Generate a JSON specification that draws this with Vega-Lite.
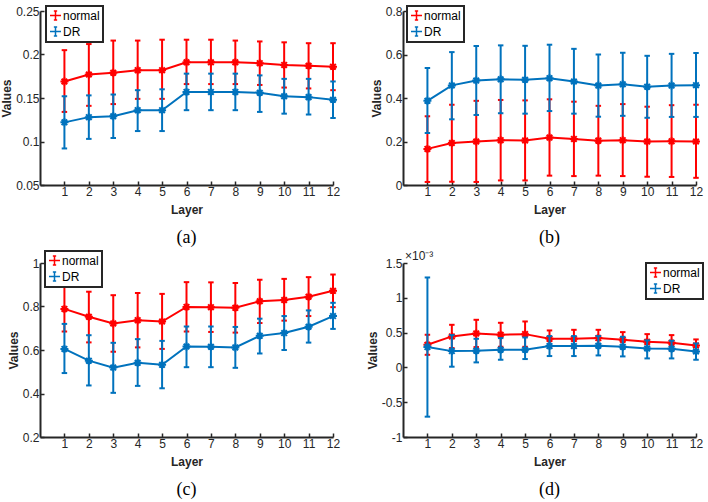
{
  "$schema": "https://vega.github.io/schema/vega-lite/v6.json",
  "background": "white",
  "padding": {"left": 0, "top": 5, "right": 2, "bottom": 2},
  "columns": 2,
  "spacing": {"row": 3, "column": 25},
  "resolve": {"scale": {"color": "independent"}, "legend": {"color": "independent"}},
  "datasets": {
    "a": [
      {"layer":1,"series":"normal","mean":0.169,"lo":0.134,"hi":0.205},
      {"layer":2,"series":"normal","mean":0.177,"lo":0.141,"hi":0.212},
      {"layer":3,"series":"normal","mean":0.179,"lo":0.143,"hi":0.216},
      {"layer":4,"series":"normal","mean":0.182,"lo":0.149,"hi":0.216},
      {"layer":5,"series":"normal","mean":0.182,"lo":0.149,"hi":0.217},
      {"layer":6,"series":"normal","mean":0.191,"lo":0.166,"hi":0.217},
      {"layer":7,"series":"normal","mean":0.191,"lo":0.166,"hi":0.217},
      {"layer":8,"series":"normal","mean":0.191,"lo":0.166,"hi":0.216},
      {"layer":9,"series":"normal","mean":0.190,"lo":0.165,"hi":0.215},
      {"layer":10,"series":"normal","mean":0.188,"lo":0.162,"hi":0.214},
      {"layer":11,"series":"normal","mean":0.187,"lo":0.161,"hi":0.213},
      {"layer":12,"series":"normal","mean":0.186,"lo":0.159,"hi":0.213},
      {"layer":1,"series":"DR","mean":0.122,"lo":0.092,"hi":0.152},
      {"layer":2,"series":"DR","mean":0.128,"lo":0.103,"hi":0.153},
      {"layer":3,"series":"DR","mean":0.129,"lo":0.104,"hi":0.154},
      {"layer":4,"series":"DR","mean":0.136,"lo":0.112,"hi":0.159},
      {"layer":5,"series":"DR","mean":0.136,"lo":0.112,"hi":0.160},
      {"layer":6,"series":"DR","mean":0.157,"lo":0.136,"hi":0.178},
      {"layer":7,"series":"DR","mean":0.157,"lo":0.136,"hi":0.178},
      {"layer":8,"series":"DR","mean":0.157,"lo":0.136,"hi":0.178},
      {"layer":9,"series":"DR","mean":0.156,"lo":0.134,"hi":0.176},
      {"layer":10,"series":"DR","mean":0.152,"lo":0.132,"hi":0.172},
      {"layer":11,"series":"DR","mean":0.151,"lo":0.131,"hi":0.172},
      {"layer":12,"series":"DR","mean":0.148,"lo":0.127,"hi":0.169}
    ],
    "b": [
      {"layer":1,"series":"normal","mean":0.166,"lo":0.014,"hi":0.316},
      {"layer":2,"series":"normal","mean":0.193,"lo":0.015,"hi":0.369},
      {"layer":3,"series":"normal","mean":0.200,"lo":0.014,"hi":0.387},
      {"layer":4,"series":"normal","mean":0.206,"lo":0.021,"hi":0.391},
      {"layer":5,"series":"normal","mean":0.205,"lo":0.021,"hi":0.389},
      {"layer":6,"series":"normal","mean":0.218,"lo":0.043,"hi":0.394},
      {"layer":7,"series":"normal","mean":0.212,"lo":0.041,"hi":0.383},
      {"layer":8,"series":"normal","mean":0.204,"lo":0.043,"hi":0.364},
      {"layer":9,"series":"normal","mean":0.206,"lo":0.041,"hi":0.372},
      {"layer":10,"series":"normal","mean":0.200,"lo":0.038,"hi":0.360},
      {"layer":11,"series":"normal","mean":0.201,"lo":0.037,"hi":0.367},
      {"layer":12,"series":"normal","mean":0.200,"lo":0.033,"hi":0.369},
      {"layer":1,"series":"DR","mean":0.387,"lo":0.239,"hi":0.538},
      {"layer":2,"series":"DR","mean":0.458,"lo":0.302,"hi":0.611},
      {"layer":3,"series":"DR","mean":0.480,"lo":0.322,"hi":0.639},
      {"layer":4,"series":"DR","mean":0.486,"lo":0.330,"hi":0.642},
      {"layer":5,"series":"DR","mean":0.484,"lo":0.328,"hi":0.640},
      {"layer":6,"series":"DR","mean":0.491,"lo":0.340,"hi":0.645},
      {"layer":7,"series":"DR","mean":0.476,"lo":0.328,"hi":0.626},
      {"layer":8,"series":"DR","mean":0.457,"lo":0.314,"hi":0.600},
      {"layer":9,"series":"DR","mean":0.463,"lo":0.318,"hi":0.608},
      {"layer":10,"series":"DR","mean":0.452,"lo":0.309,"hi":0.594},
      {"layer":11,"series":"DR","mean":0.457,"lo":0.313,"hi":0.603},
      {"layer":12,"series":"DR","mean":0.459,"lo":0.313,"hi":0.607}
    ],
    "c": [
      {"layer":1,"series":"normal","mean":0.789,"lo":0.685,"hi":0.897},
      {"layer":2,"series":"normal","mean":0.753,"lo":0.635,"hi":0.868},
      {"layer":3,"series":"normal","mean":0.722,"lo":0.592,"hi":0.852},
      {"layer":4,"series":"normal","mean":0.737,"lo":0.612,"hi":0.862},
      {"layer":5,"series":"normal","mean":0.731,"lo":0.605,"hi":0.858},
      {"layer":6,"series":"normal","mean":0.798,"lo":0.685,"hi":0.912},
      {"layer":7,"series":"normal","mean":0.797,"lo":0.683,"hi":0.911},
      {"layer":8,"series":"normal","mean":0.794,"lo":0.680,"hi":0.908},
      {"layer":9,"series":"normal","mean":0.824,"lo":0.724,"hi":0.923},
      {"layer":10,"series":"normal","mean":0.830,"lo":0.735,"hi":0.927},
      {"layer":11,"series":"normal","mean":0.845,"lo":0.756,"hi":0.935},
      {"layer":12,"series":"normal","mean":0.872,"lo":0.797,"hi":0.947},
      {"layer":1,"series":"DR","mean":0.605,"lo":0.494,"hi":0.720},
      {"layer":2,"series":"DR","mean":0.551,"lo":0.437,"hi":0.668},
      {"layer":3,"series":"DR","mean":0.519,"lo":0.403,"hi":0.633},
      {"layer":4,"series":"DR","mean":0.541,"lo":0.435,"hi":0.650},
      {"layer":5,"series":"DR","mean":0.532,"lo":0.424,"hi":0.642},
      {"layer":6,"series":"DR","mean":0.616,"lo":0.521,"hi":0.708},
      {"layer":7,"series":"DR","mean":0.615,"lo":0.521,"hi":0.708},
      {"layer":8,"series":"DR","mean":0.612,"lo":0.518,"hi":0.706},
      {"layer":9,"series":"DR","mean":0.665,"lo":0.584,"hi":0.744},
      {"layer":10,"series":"DR","mean":0.678,"lo":0.600,"hi":0.756},
      {"layer":11,"series":"DR","mean":0.707,"lo":0.634,"hi":0.782},
      {"layer":12,"series":"DR","mean":0.756,"lo":0.697,"hi":0.817}
    ],
    "d": [
      {"layer":1,"series":"normal","mean":0.000325,"lo":0.000181,"hi":0.000469},
      {"layer":2,"series":"normal","mean":0.000445,"lo":0.000278,"hi":0.000612},
      {"layer":3,"series":"normal","mean":0.000488,"lo":0.000292,"hi":0.000684},
      {"layer":4,"series":"normal","mean":0.000469,"lo":0.000297,"hi":0.000641},
      {"layer":5,"series":"normal","mean":0.000478,"lo":0.000296,"hi":0.000660},
      {"layer":6,"series":"normal","mean":0.000411,"lo":0.000291,"hi":0.000531},
      {"layer":7,"series":"normal","mean":0.000411,"lo":0.000282,"hi":0.000540},
      {"layer":8,"series":"normal","mean":0.000421,"lo":0.000302,"hi":0.000540},
      {"layer":9,"series":"normal","mean":0.000397,"lo":0.000287,"hi":0.000507},
      {"layer":10,"series":"normal","mean":0.000368,"lo":0.000258,"hi":0.000478},
      {"layer":11,"series":"normal","mean":0.000354,"lo":0.000244,"hi":0.000464},
      {"layer":12,"series":"normal","mean":0.000316,"lo":0.000230,"hi":0.000402},
      {"layer":1,"series":"DR","mean":0.000292,"lo":-0.000708,"hi":0.001292},
      {"layer":2,"series":"DR","mean":0.000234,"lo":0.000010,"hi":0.000464},
      {"layer":3,"series":"DR","mean":0.000239,"lo":0.000072,"hi":0.000411},
      {"layer":4,"series":"DR","mean":0.000254,"lo":0.000110,"hi":0.000421},
      {"layer":5,"series":"DR","mean":0.000254,"lo":0.000120,"hi":0.000430},
      {"layer":6,"series":"DR","mean":0.000306,"lo":0.000163,"hi":0.000450},
      {"layer":7,"series":"DR","mean":0.000306,"lo":0.000163,"hi":0.000450},
      {"layer":8,"series":"DR","mean":0.000311,"lo":0.000172,"hi":0.000450},
      {"layer":9,"series":"DR","mean":0.000297,"lo":0.000158,"hi":0.000440},
      {"layer":10,"series":"DR","mean":0.000273,"lo":0.000129,"hi":0.000388},
      {"layer":11,"series":"DR","mean":0.000268,"lo":0.000129,"hi":0.000383},
      {"layer":12,"series":"DR","mean":0.000230,"lo":0.000110,"hi":0.000344}
    ]
  },
  "concat": [
    {
      "title": {"text": "(a)"},
      "width": 293, "height": 174,
      "data": {"name": "a"},
      "encoding": {
        "x": {"field": "layer", "type": "quantitative", "scale": {"domain": [0, 12], "nice": false}, "axis": {"values": [1,2,3,4,5,6,7,8,9,10,11,12], "title": "Layer"}},
        "color": {"field": "series", "type": "nominal", "scale": {"domain": ["normal", "DR"], "range": ["#FF0000", "#0072BD"]}, "legend": {"title": null, "orient": "none", "legendX": 6, "legendY": -5, "encode": {"legend": {"update": {"strokeWidth": {"value": 2}}}}}}
      },
      "layer": [
        {"transform": [{"filter": "datum.series == 'normal'"}], "layer": [
          {"mark": {"type": "rule", "strokeWidth": 2}, "encoding": {"y": {"field": "lo", "type": "quantitative", "scale": {"domain": [0.05, 0.25], "nice": false, "zero": false}, "axis": {"values": [0.05,0.1,0.15,0.2,0.25], "title": "Values"}}, "y2": {"field": "hi"}}},
          {"transform": [{"fold": ["lo", "hi"], "as": ["k", "v"]}], "mark": {"type": "point", "shape": "M-1,0H1", "filled": false, "size": 30, "strokeWidth": 2, "opacity": 1}, "encoding": {"y": {"field": "v", "type": "quantitative", "scale": {"domain": [0.05, 0.25], "nice": false, "zero": false}, "axis": {"values": [0.05,0.1,0.15,0.2,0.25], "title": "Values"}}}},
          {"mark": {"type": "line", "strokeWidth": 2}, "encoding": {"y": {"field": "mean", "type": "quantitative", "scale": {"domain": [0.05, 0.25], "nice": false, "zero": false}, "axis": {"values": [0.05,0.1,0.15,0.2,0.25], "title": "Values"}}}},
          {"mark": {"type": "point", "shape": "M0,-1V1M-1,0H1M-0.7,-0.7L0.7,0.7M-0.7,0.7L0.7,-0.7", "filled": false, "size": 64, "strokeWidth": 2, "opacity": 1}, "encoding": {"y": {"field": "mean", "type": "quantitative", "scale": {"domain": [0.05, 0.25], "nice": false, "zero": false}, "axis": {"values": [0.05,0.1,0.15,0.2,0.25], "title": "Values"}}}}
        ]},
        {"transform": [{"filter": "datum.series == 'DR'"}], "layer": [
          {"mark": {"type": "rule", "strokeWidth": 2}, "encoding": {"y": {"field": "lo", "type": "quantitative", "scale": {"domain": [0.05, 0.25], "nice": false, "zero": false}, "axis": {"values": [0.05,0.1,0.15,0.2,0.25], "title": "Values"}}, "y2": {"field": "hi"}}},
          {"transform": [{"fold": ["lo", "hi"], "as": ["k", "v"]}], "mark": {"type": "point", "shape": "M-1,0H1", "filled": false, "size": 30, "strokeWidth": 2, "opacity": 1}, "encoding": {"y": {"field": "v", "type": "quantitative", "scale": {"domain": [0.05, 0.25], "nice": false, "zero": false}, "axis": {"values": [0.05,0.1,0.15,0.2,0.25], "title": "Values"}}}},
          {"mark": {"type": "line", "strokeWidth": 2}, "encoding": {"y": {"field": "mean", "type": "quantitative", "scale": {"domain": [0.05, 0.25], "nice": false, "zero": false}, "axis": {"values": [0.05,0.1,0.15,0.2,0.25], "title": "Values"}}}},
          {"mark": {"type": "point", "shape": "M0,-1V1M-1,0H1M-0.7,-0.7L0.7,0.7M-0.7,0.7L0.7,-0.7", "filled": false, "size": 64, "strokeWidth": 2, "opacity": 1}, "encoding": {"y": {"field": "mean", "type": "quantitative", "scale": {"domain": [0.05, 0.25], "nice": false, "zero": false}, "axis": {"values": [0.05,0.1,0.15,0.2,0.25], "title": "Values"}}}}
        ]}
      ]
    },
    {
      "title": {"text": "(b)"},
      "width": 293, "height": 174,
      "data": {"name": "b"},
      "encoding": {
        "x": {"field": "layer", "type": "quantitative", "scale": {"domain": [0, 12], "nice": false}, "axis": {"values": [1,2,3,4,5,6,7,8,9,10,11,12], "title": "Layer"}},
        "color": {"field": "series", "type": "nominal", "scale": {"domain": ["normal", "DR"], "range": ["#FF0000", "#0072BD"]}, "legend": {"title": null, "orient": "none", "legendX": 4, "legendY": -5, "encode": {"legend": {"update": {"strokeWidth": {"value": 2}}}}}}
      },
      "layer": [
        {"transform": [{"filter": "datum.series == 'normal'"}], "layer": [
          {"mark": {"type": "rule", "strokeWidth": 2}, "encoding": {"y": {"field": "lo", "type": "quantitative", "scale": {"domain": [0, 0.8], "nice": false, "zero": false}, "axis": {"values": [0,0.2,0.4,0.6,0.8], "title": "Values"}}, "y2": {"field": "hi"}}},
          {"transform": [{"fold": ["lo", "hi"], "as": ["k", "v"]}], "mark": {"type": "point", "shape": "M-1,0H1", "filled": false, "size": 30, "strokeWidth": 2, "opacity": 1}, "encoding": {"y": {"field": "v", "type": "quantitative", "scale": {"domain": [0, 0.8], "nice": false, "zero": false}, "axis": {"values": [0,0.2,0.4,0.6,0.8], "title": "Values"}}}},
          {"mark": {"type": "line", "strokeWidth": 2}, "encoding": {"y": {"field": "mean", "type": "quantitative", "scale": {"domain": [0, 0.8], "nice": false, "zero": false}, "axis": {"values": [0,0.2,0.4,0.6,0.8], "title": "Values"}}}},
          {"mark": {"type": "point", "shape": "M0,-1V1M-1,0H1M-0.7,-0.7L0.7,0.7M-0.7,0.7L0.7,-0.7", "filled": false, "size": 64, "strokeWidth": 2, "opacity": 1}, "encoding": {"y": {"field": "mean", "type": "quantitative", "scale": {"domain": [0, 0.8], "nice": false, "zero": false}, "axis": {"values": [0,0.2,0.4,0.6,0.8], "title": "Values"}}}}
        ]},
        {"transform": [{"filter": "datum.series == 'DR'"}], "layer": [
          {"mark": {"type": "rule", "strokeWidth": 2}, "encoding": {"y": {"field": "lo", "type": "quantitative", "scale": {"domain": [0, 0.8], "nice": false, "zero": false}, "axis": {"values": [0,0.2,0.4,0.6,0.8], "title": "Values"}}, "y2": {"field": "hi"}}},
          {"transform": [{"fold": ["lo", "hi"], "as": ["k", "v"]}], "mark": {"type": "point", "shape": "M-1,0H1", "filled": false, "size": 30, "strokeWidth": 2, "opacity": 1}, "encoding": {"y": {"field": "v", "type": "quantitative", "scale": {"domain": [0, 0.8], "nice": false, "zero": false}, "axis": {"values": [0,0.2,0.4,0.6,0.8], "title": "Values"}}}},
          {"mark": {"type": "line", "strokeWidth": 2}, "encoding": {"y": {"field": "mean", "type": "quantitative", "scale": {"domain": [0, 0.8], "nice": false, "zero": false}, "axis": {"values": [0,0.2,0.4,0.6,0.8], "title": "Values"}}}},
          {"mark": {"type": "point", "shape": "M0,-1V1M-1,0H1M-0.7,-0.7L0.7,0.7M-0.7,0.7L0.7,-0.7", "filled": false, "size": 64, "strokeWidth": 2, "opacity": 1}, "encoding": {"y": {"field": "mean", "type": "quantitative", "scale": {"domain": [0, 0.8], "nice": false, "zero": false}, "axis": {"values": [0,0.2,0.4,0.6,0.8], "title": "Values"}}}}
        ]}
      ]
    },
    {
      "title": {"text": "(c)"},
      "width": 293, "height": 174,
      "data": {"name": "c"},
      "encoding": {
        "x": {"field": "layer", "type": "quantitative", "scale": {"domain": [0, 12], "nice": false}, "axis": {"values": [1,2,3,4,5,6,7,8,9,10,11,12], "title": "Layer"}},
        "color": {"field": "series", "type": "nominal", "scale": {"domain": ["normal", "DR"], "range": ["#FF0000", "#0072BD"]}, "legend": {"title": null, "orient": "none", "legendX": 5, "legendY": -12, "encode": {"legend": {"update": {"strokeWidth": {"value": 2}}}}}}
      },
      "layer": [
        {"transform": [{"filter": "datum.series == 'normal'"}], "layer": [
          {"mark": {"type": "rule", "strokeWidth": 2}, "encoding": {"y": {"field": "lo", "type": "quantitative", "scale": {"domain": [0.2, 1], "nice": false, "zero": false}, "axis": {"values": [0.2,0.4,0.6,0.8,1], "title": "Values"}}, "y2": {"field": "hi"}}},
          {"transform": [{"fold": ["lo", "hi"], "as": ["k", "v"]}], "mark": {"type": "point", "shape": "M-1,0H1", "filled": false, "size": 30, "strokeWidth": 2, "opacity": 1}, "encoding": {"y": {"field": "v", "type": "quantitative", "scale": {"domain": [0.2, 1], "nice": false, "zero": false}, "axis": {"values": [0.2,0.4,0.6,0.8,1], "title": "Values"}}}},
          {"mark": {"type": "line", "strokeWidth": 2}, "encoding": {"y": {"field": "mean", "type": "quantitative", "scale": {"domain": [0.2, 1], "nice": false, "zero": false}, "axis": {"values": [0.2,0.4,0.6,0.8,1], "title": "Values"}}}},
          {"mark": {"type": "point", "shape": "M0,-1V1M-1,0H1M-0.7,-0.7L0.7,0.7M-0.7,0.7L0.7,-0.7", "filled": false, "size": 64, "strokeWidth": 2, "opacity": 1}, "encoding": {"y": {"field": "mean", "type": "quantitative", "scale": {"domain": [0.2, 1], "nice": false, "zero": false}, "axis": {"values": [0.2,0.4,0.6,0.8,1], "title": "Values"}}}}
        ]},
        {"transform": [{"filter": "datum.series == 'DR'"}], "layer": [
          {"mark": {"type": "rule", "strokeWidth": 2}, "encoding": {"y": {"field": "lo", "type": "quantitative", "scale": {"domain": [0.2, 1], "nice": false, "zero": false}, "axis": {"values": [0.2,0.4,0.6,0.8,1], "title": "Values"}}, "y2": {"field": "hi"}}},
          {"transform": [{"fold": ["lo", "hi"], "as": ["k", "v"]}], "mark": {"type": "point", "shape": "M-1,0H1", "filled": false, "size": 30, "strokeWidth": 2, "opacity": 1}, "encoding": {"y": {"field": "v", "type": "quantitative", "scale": {"domain": [0.2, 1], "nice": false, "zero": false}, "axis": {"values": [0.2,0.4,0.6,0.8,1], "title": "Values"}}}},
          {"mark": {"type": "line", "strokeWidth": 2}, "encoding": {"y": {"field": "mean", "type": "quantitative", "scale": {"domain": [0.2, 1], "nice": false, "zero": false}, "axis": {"values": [0.2,0.4,0.6,0.8,1], "title": "Values"}}}},
          {"mark": {"type": "point", "shape": "M0,-1V1M-1,0H1M-0.7,-0.7L0.7,0.7M-0.7,0.7L0.7,-0.7", "filled": false, "size": 64, "strokeWidth": 2, "opacity": 1}, "encoding": {"y": {"field": "mean", "type": "quantitative", "scale": {"domain": [0.2, 1], "nice": false, "zero": false}, "axis": {"values": [0.2,0.4,0.6,0.8,1], "title": "Values"}}}}
        ]}
      ]
    },
    {
      "title": {"text": "(d)"},
      "width": 293, "height": 174,
      "data": {"name": "d"},
      "encoding": {
        "x": {"field": "layer", "type": "quantitative", "scale": {"domain": [0, 12], "nice": false}, "axis": {"values": [1,2,3,4,5,6,7,8,9,10,11,12], "title": "Layer"}},
        "color": {"field": "series", "type": "nominal", "scale": {"domain": ["normal", "DR"], "range": ["#FF0000", "#0072BD"]}, "legend": {"title": null, "orient": "none", "legendX": 243, "legendY": 0, "encode": {"legend": {"update": {"strokeWidth": {"value": 2}}}}}}
      },
      "layer": [
        {"transform": [{"filter": "datum.series == 'normal'"}], "layer": [
          {"mark": {"type": "rule", "strokeWidth": 2}, "encoding": {"y": {"field": "lo", "type": "quantitative", "scale": {"domain": [-0.001, 0.0015], "nice": false, "zero": false}, "axis": {"values": [-0.001,-0.0005,0,0.0005,0.001,0.0015], "title": "Values", "labelExpr": "'' + round(datum.value*10000)/10"}}, "y2": {"field": "hi"}}},
          {"transform": [{"fold": ["lo", "hi"], "as": ["k", "v"]}], "mark": {"type": "point", "shape": "M-1,0H1", "filled": false, "size": 30, "strokeWidth": 2, "opacity": 1}, "encoding": {"y": {"field": "v", "type": "quantitative", "scale": {"domain": [-0.001, 0.0015], "nice": false, "zero": false}, "axis": {"values": [-0.001,-0.0005,0,0.0005,0.001,0.0015], "title": "Values", "labelExpr": "'' + round(datum.value*10000)/10"}}}},
          {"mark": {"type": "line", "strokeWidth": 2}, "encoding": {"y": {"field": "mean", "type": "quantitative", "scale": {"domain": [-0.001, 0.0015], "nice": false, "zero": false}, "axis": {"values": [-0.001,-0.0005,0,0.0005,0.001,0.0015], "title": "Values", "labelExpr": "'' + round(datum.value*10000)/10"}}}},
          {"mark": {"type": "point", "shape": "M0,-1V1M-1,0H1M-0.7,-0.7L0.7,0.7M-0.7,0.7L0.7,-0.7", "filled": false, "size": 64, "strokeWidth": 2, "opacity": 1}, "encoding": {"y": {"field": "mean", "type": "quantitative", "scale": {"domain": [-0.001, 0.0015], "nice": false, "zero": false}, "axis": {"values": [-0.001,-0.0005,0,0.0005,0.001,0.0015], "title": "Values", "labelExpr": "'' + round(datum.value*10000)/10"}}}}
        ]},
        {"transform": [{"filter": "datum.series == 'DR'"}], "layer": [
          {"mark": {"type": "rule", "strokeWidth": 2}, "encoding": {"y": {"field": "lo", "type": "quantitative", "scale": {"domain": [-0.001, 0.0015], "nice": false, "zero": false}, "axis": {"values": [-0.001,-0.0005,0,0.0005,0.001,0.0015], "title": "Values", "labelExpr": "'' + round(datum.value*10000)/10"}}, "y2": {"field": "hi"}}},
          {"transform": [{"fold": ["lo", "hi"], "as": ["k", "v"]}], "mark": {"type": "point", "shape": "M-1,0H1", "filled": false, "size": 30, "strokeWidth": 2, "opacity": 1}, "encoding": {"y": {"field": "v", "type": "quantitative", "scale": {"domain": [-0.001, 0.0015], "nice": false, "zero": false}, "axis": {"values": [-0.001,-0.0005,0,0.0005,0.001,0.0015], "title": "Values", "labelExpr": "'' + round(datum.value*10000)/10"}}}},
          {"mark": {"type": "line", "strokeWidth": 2}, "encoding": {"y": {"field": "mean", "type": "quantitative", "scale": {"domain": [-0.001, 0.0015], "nice": false, "zero": false}, "axis": {"values": [-0.001,-0.0005,0,0.0005,0.001,0.0015], "title": "Values", "labelExpr": "'' + round(datum.value*10000)/10"}}}},
          {"mark": {"type": "point", "shape": "M0,-1V1M-1,0H1M-0.7,-0.7L0.7,0.7M-0.7,0.7L0.7,-0.7", "filled": false, "size": 64, "strokeWidth": 2, "opacity": 1}, "encoding": {"y": {"field": "mean", "type": "quantitative", "scale": {"domain": [-0.001, 0.0015], "nice": false, "zero": false}, "axis": {"values": [-0.001,-0.0005,0,0.0005,0.001,0.0015], "title": "Values", "labelExpr": "'' + round(datum.value*10000)/10"}}}}
        ]},
        {"transform": [{"filter": "datum.series == 'normal' && datum.layer == 1"}], "mark": {"type": "text", "align": "left", "baseline": "bottom", "dx": 2, "dy": 0, "fontSize": 12, "font": "Liberation Sans", "color": "#262626"}, "encoding": {"x": {"datum": 0, "type": "quantitative", "scale": {"domain": [0, 12], "nice": false}}, "y": {"datum": 0.0015, "type": "quantitative", "scale": {"domain": [-0.001, 0.0015], "nice": false, "zero": false}, "axis": {"values": [-0.001,-0.0005,0,0.0005,0.001,0.0015], "title": "Values", "labelExpr": "'' + round(datum.value*10000)/10"}}, "text": {"value": "×10⁻³"}, "color": {"value": "#262626"}}}
      ]
    }
  ],
  "config": {
    "view": {"stroke": null},
    "font": "Liberation Sans",
    "numberFormat": "~g",
    "title": {"orient": "bottom", "anchor": "middle", "frame": "group", "font": "Liberation Serif", "fontSize": 18, "fontWeight": "normal", "color": "black", "offset": 14},
    "axis": {"grid": false, "domainColor": "#262626", "domainWidth": 2, "tickColor": "#262626", "tickWidth": 1.5, "tickSize": -4, "labelPadding": 5, "labelFlush": false, "labelOverlap": false, "labelFontSize": 12, "labelColor": "#262626", "labelFont": "Liberation Sans", "titleFontSize": 12, "titleFontWeight": "bold", "titleColor": "#262626", "titleFont": "Liberation Sans"},
    "axisX": {"titlePadding": 7},
    "axisY": {"titlePadding": 2},
    "legend": {"labelFontSize": 12, "labelColor": "black", "labelFont": "Liberation Sans", "symbolType": "M-1,0H1M0,-0.8V0.8M-0.3,-0.8H0.3M-0.3,0.8H0.3", "symbolSize": 121, "symbolStrokeWidth": 1.5, "symbolFillColor": "transparent", "strokeColor": "#262626", "strokeWidth": 2, "fillColor": "white", "padding": 3, "rowPadding": 1, "labelOffset": 1, "columnPadding": 0}
  }
}
